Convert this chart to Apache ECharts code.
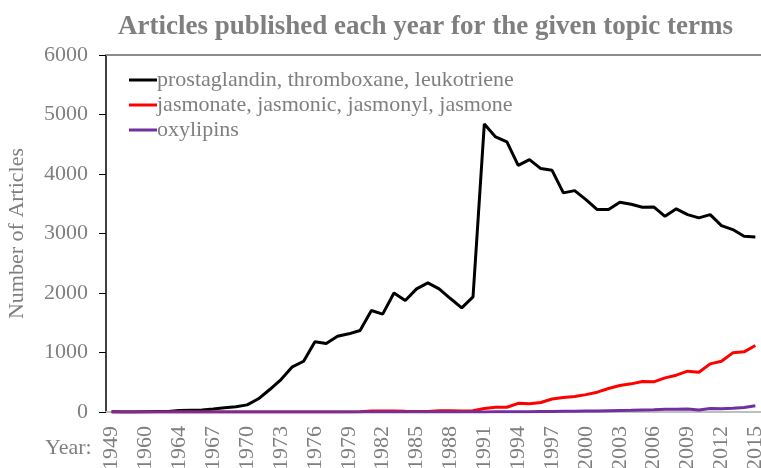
<!DOCTYPE html>
<html lang="en">
<head>
    <meta charset="UTF-8">
    <title>Articles per year</title>
    <style>
        html, body { margin: 0; padding: 0; background: #fff; }
        #chart { width: 761px; height: 468px; }
    </style>
</head>
<body>
<div id="chart"></div>
<script src="https://cdn.jsdelivr.net/npm/echarts@6/dist/echarts.min.js"></script>
<script>
    // years (a few early years have gaps, those labels are hidden anyway)
    const years = ['1949', '1955', '1958', '1960', '1961', '1963',
        '1964', '1965', '1966', '1967', '1968', '1969', '1970', '1971', '1972', '1973',
        '1974', '1975', '1976', '1977', '1978', '1979', '1980', '1981', '1982', '1983',
        '1984', '1985', '1986', '1987', '1988', '1989', '1990', '1991', '1992', '1993',
        '1994', '1995', '1996', '1997', '1998', '1999', '2000', '2001', '2002', '2003',
        '2004', '2005', '2006', '2007', '2008', '2009', '2010', '2011', '2012', '2013',
        '2014', '2015'];

    const prostaglandin = [5, 0, 0, 5, 10, 10,
        25, 30, 35, 50, 70, 90, 120, 222, 378, 546,
        759, 853, 1179, 1151, 1273, 1314, 1369, 1705, 1645, 2000,
        1873, 2070, 2170, 2070, 1907, 1751, 1935, 4842, 4623, 4539,
        4146, 4242, 4091, 4062, 3683, 3721, 3570, 3402, 3402, 3525,
        3491, 3441, 3447, 3289, 3414, 3318, 3263, 3318, 3133, 3066,
        2953, 2943];

    const jasmonate = [0, 0, 0, 0, 0, 0,
        0, 0, 0, 0, 0, 0, 0, 0, 0, 0,
        0, 0, 0, 0, 0, 0, 5, 15, 18, 15,
        12, 10, 8, 20, 22, 15, 20, 60, 80, 80,
        145, 140, 160, 218, 245, 262, 292, 333, 395, 445,
        473, 512, 507, 574, 619, 686, 669, 809, 854, 994,
        1011, 1117];

    const oxylipins = [0, 0, 0, 0, 0, 0,
        0, 0, 0, 0, 0, 0, 0, 0, 0, 0,
        0, 0, 0, 0, 0, 0, 0, 0, 0, 0,
        0, 0, 0, 0, 0, 0, 0, 2, 3, 3,
        4, 5, 7, 8, 12, 14, 18, 17, 22, 27,
        30, 34, 36, 45, 48, 52, 35, 58, 55, 62,
        75, 104];

    const seriesNames = ['prostaglandin, thromboxane, leukotriene',
        'jasmonate, jasmonic, jasmonyl, jasmone', 'oxylipins'];
    const seriesColors = ['#000000', '#ff0000', '#7030a0'];

    const serif = '"Liberation Serif", "DejaVu Serif", serif';
    const grey = '#7f7f7f';

    const chart = echarts.init(document.getElementById('chart'));
    const option = {
        animation: false,
        title: {
            text: 'Articles published each year for the given topic terms',
            left: 113,
            top: 9,
            textStyle: {
                fontFamily: serif,
                fontSize: 27,
                fontWeight: 'bold',
                color: grey
            }
        },
        legend: {
            orient: 'vertical',
            left: 124,
            top: 64,
            itemWidth: 28,
            itemHeight: 3,
            itemGap: 3,
            icon: 'rect',
            data: seriesNames,
            textStyle: {
                fontFamily: serif,
                fontSize: 22,
                color: grey,
                padding: [0, 0, 0, -5]
            }
        },
        grid: {
            left: 106,
            right: 0,
            top: 55,
            bottom: 56,
            outerBoundsMode: 'none'
        },
        graphic: [{
            type: 'text',
            left: 45,
            top: 437,
            style: {
                text: 'Year:',
                font: '22px ' + serif,
                fill: grey
            }
        }],
        xAxis: [{
            type: 'category',
            data: years,
            boundaryGap: true,
            axisLine: {lineStyle: {color: '#bfbfbf', width: 2}},
            axisTick: {show: false},
            axisLabel: {
                rotate: 90,
                interval: 2,
                margin: 14,
                fontFamily: serif,
                fontSize: 22,
                color: grey
            }
        }, {
            type: 'category',
            data: years,
            position: 'top',
            axisLine: {lineStyle: {color: '#8c8c8c', width: 2}},
            axisTick: {show: false},
            axisLabel: {show: false}
        }],
        yAxis: {
            type: 'value',
            min: 0,
            max: 6000,
            interval: 1000,
            name: 'Number of Articles',
            nameLocation: 'middle',
            nameGap: 78,
            nameTextStyle: {
                fontFamily: serif,
                fontSize: 22,
                color: grey
            },
            axisLine: {show: true, lineStyle: {color: '#000', width: 1.5}},
            axisTick: {show: true, length: 7, lineStyle: {color: '#000'}},
            splitLine: {show: false},
            axisLabel: {
                margin: 18,
                fontFamily: serif,
                fontSize: 22,
                color: grey,
                formatter: (v) => String(v)
            }
        },
        series: [prostaglandin, jasmonate, oxylipins].map((vals, k) => ({
            name: seriesNames[k],
            type: 'line',
            data: vals,
            symbol: 'none',
            lineStyle: {color: seriesColors[k], width: 3},
            itemStyle: {color: seriesColors[k]}
        }))
    };
    chart.setOption(option);
</script>
</body>
</html>
